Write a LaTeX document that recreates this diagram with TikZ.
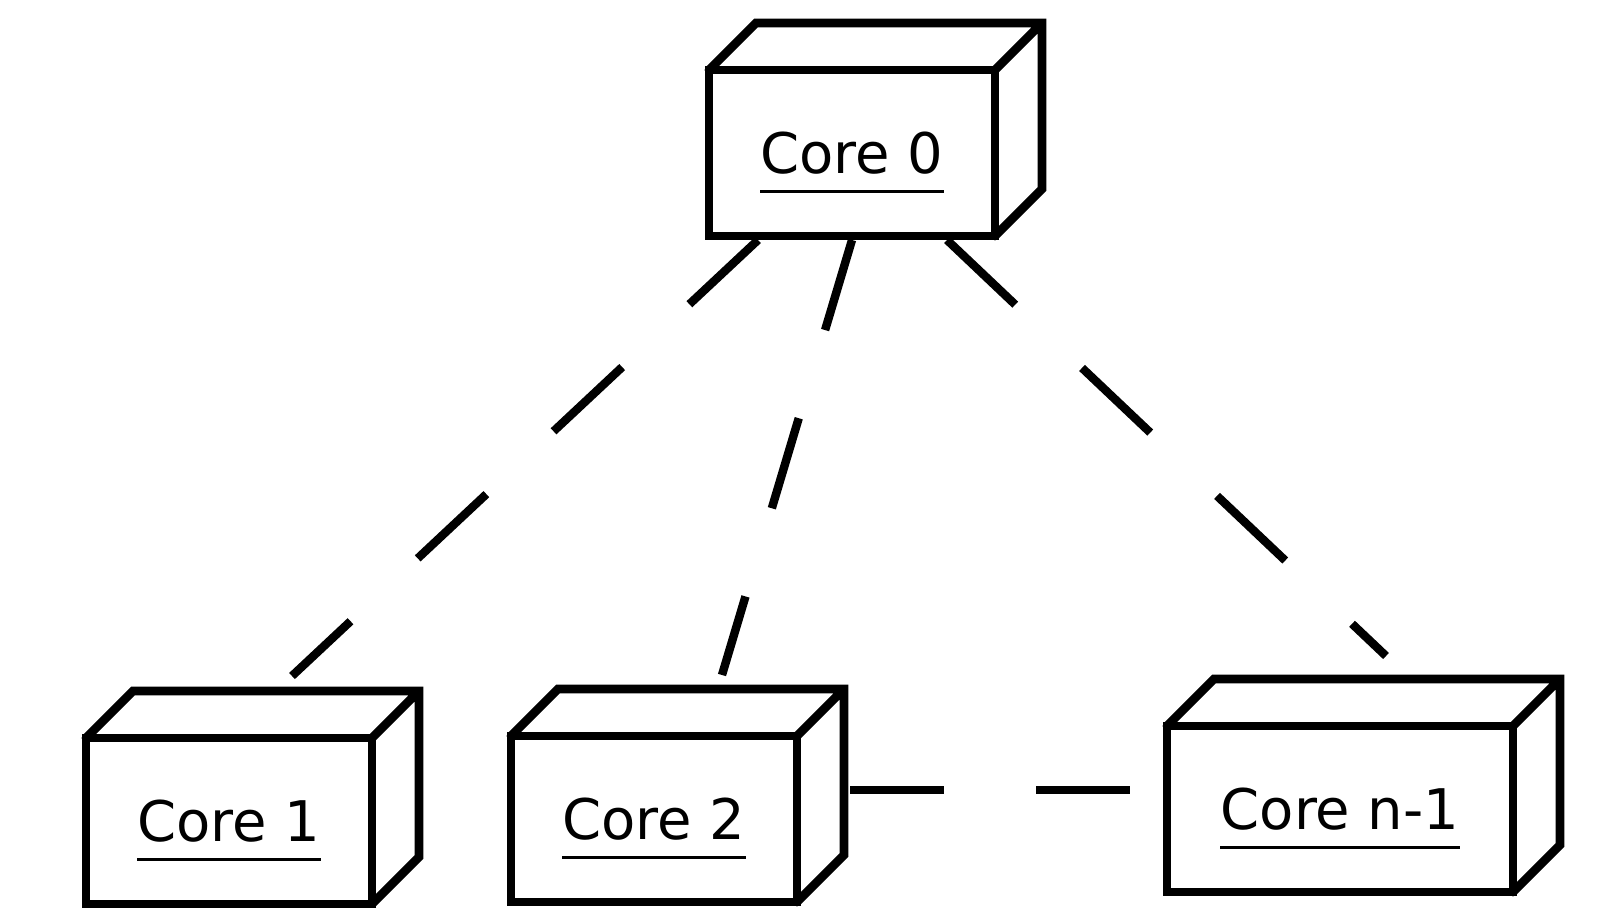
\documentclass[tikz,border=0pt]{standalone}
\usepackage{fontspec}
\setmainfont{DejaVu Sans}
\begin{document}
\begin{tikzpicture}[x=0.5pt,y=-0.5pt]
  % Define styles for the cores and the links
  \tikzset{
    core node/.style={rectangle, draw, line width=4.4pt, inner sep=0pt, outer sep=0pt,
      minimum width=143pt, minimum height=83pt},
    name node/.style={inner sep=0pt, anchor=base, font=\fontsize{28}{34}\selectfont},
    box line/.style={line width=4.4pt, line cap=round},
    name line/.style={line width=1.7pt},
    link line/.style={line width=4.2pt, dash pattern=on 47pt off 46pt}
  }
  \useasboundingbox (0,0) rectangle (1617,908);

  % Cores (front faces)
  \node[core node] (c0) at (852,153) {};
  \node[core node] (c1) at (229,821) {};
  \node[core node] (c2) at (654,819) {};
  \node[core node, minimum width=173pt] (c3) at (1340,809) {};

  % Top and side faces
  \foreach \n in {c0,c1,c2,c3}
    \draw[box line] (\n.north west) -- ++(47,-47) -| ([shift={(47,-47)}]\n.south east) -- (\n.south east)
      (\n.north east) -- ++(47,-47);

  % Names
  \node[name node] (t0) at ([yshift=-10.25pt]c0.center) {Core 0};
  \node[name node] (t1) at ([yshift=-10.25pt]c1.center) {Core 1};
  \node[name node] (t2) at ([yshift=-10.25pt]c2.center) {Core 2};
  \node[name node] (t3) at ([yshift=-10.25pt]c3.center) {Core n-1};
  \foreach \n in {t0,t1,t2,t3}
    \draw[name line] ([yshift=-9pt]\n.base west) -- ([yshift=-9pt]\n.base east);

  % Links
  \draw[link line] ([shift={(-94,4)}]c0.south) -- ([shift={(63,-62)}]c1.north);
  \draw[link line] ([shift={(0,4)}]c0.south) -- ([shift={(68,-61)}]c2.north);
  \draw[link line] ([shift={(95,4)}]c0.south) -- ([shift={(46,-70)}]c3.north);
  \draw[link line] ([shift={(53,-29)}]c2.east) -- ([shift={(0,-19)}]c3.west);
\end{tikzpicture}
\end{document}
